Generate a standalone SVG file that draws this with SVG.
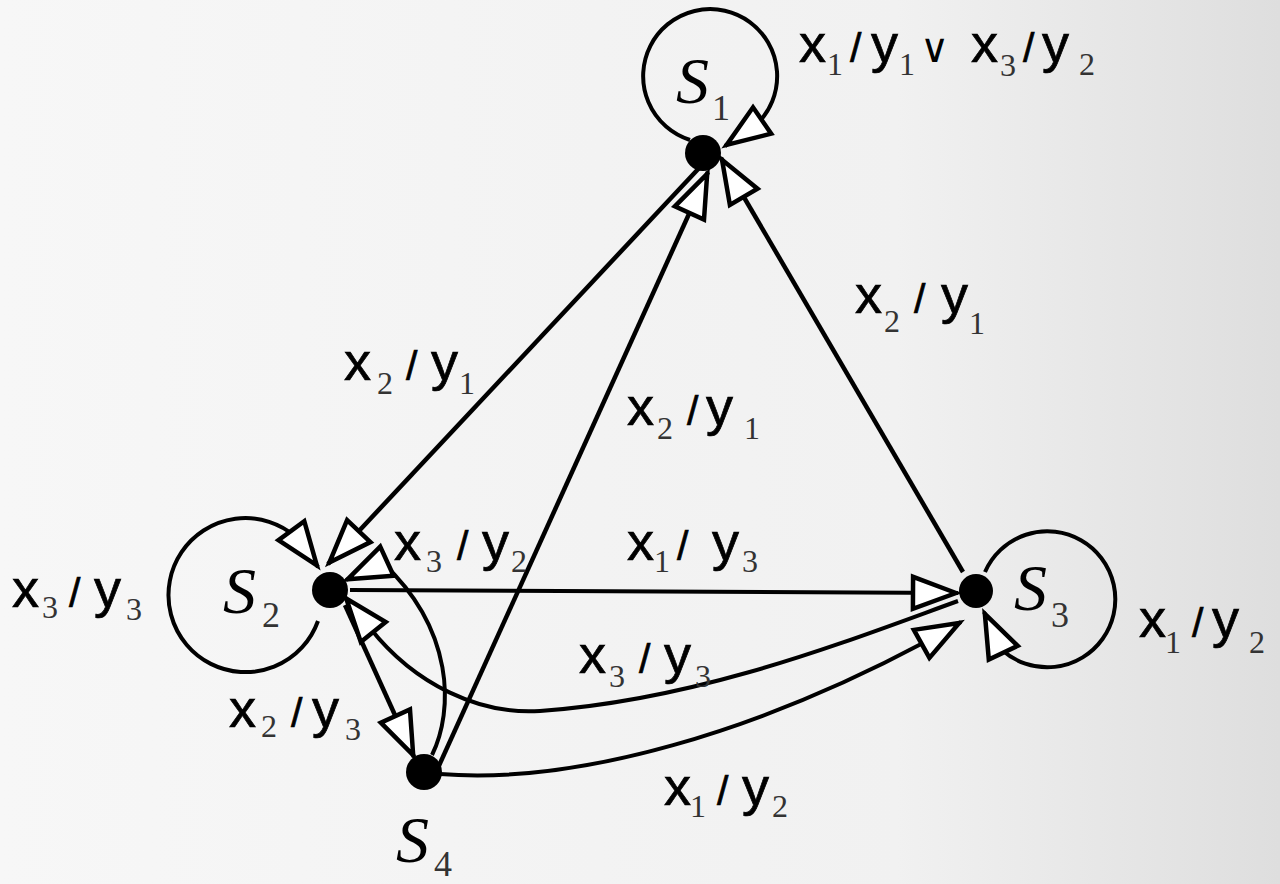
<svg xmlns="http://www.w3.org/2000/svg" width="1280" height="884" viewBox="0 0 1280 884">
<defs>
<linearGradient id="bg" x1="0" y1="0" x2="1" y2="0">
<stop offset="0" stop-color="#f7f7f7"/>
<stop offset="0.7" stop-color="#f1f1f1"/>
<stop offset="1" stop-color="#dedede"/>
</linearGradient>
<marker id="ah" markerUnits="userSpaceOnUse" markerWidth="60" markerHeight="60" viewBox="-50 -30 60 60" refX="0" refY="0" orient="auto" overflow="visible">
<path d="M-2,0 L-45,-16 L-45,16 Z" fill="#fff" stroke="#000" stroke-width="4.5"/>
</marker>
<style>
.c{fill:none;stroke:#000;stroke-width:4.5;marker-end:url(#ah)}
.c2{stroke-width:4}
.dot{fill:#000}
.m{font-family:"Liberation Sans",Arial,sans-serif;font-size:54px;fill:#000;stroke:#000;stroke-width:0.7}
.sl{font-size:41px}
.sb{font-family:"Liberation Serif","Times New Roman",serif;font-size:32px;fill:#333;stroke:none}
.or{font-family:"DejaVu Sans",sans-serif;font-size:40px;stroke:none}
.n{font-family:"Liberation Serif","Times New Roman",serif;font-style:italic;font-size:66px;fill:#000}
.ns{font-style:normal;font-size:36px;fill:#333}
</style>
</defs>
<rect width="1280" height="884" fill="url(#bg)"/>
<g id="connectors">
<path class="c c2" d="M690,140 A67,67 0 1 1 757,124 L725,146"/>
<path class="c c2" d="M318,621 A77,77 0 1 1 296,537 L318,567"/>
<path class="c c2" d="M985,572 A68,68 0 1 1 1002,650 L984,612"/>
<path class="c" d="M701,166 L328,564"/>
<path class="c" d="M437,770 L708,172"/>
<path class="c" d="M963,572 L721,158"/>
<path class="c c2" d="M350,590 L958,593"/>
<path class="c" d="M345,605 L414,757"/>
<path class="c c2" d="M958,601 C850,640 700,700 540,711 C480,715 415,685 370,628 L345,597"/>
<path class="c c2" d="M440,774 C580,785 760,730 925,642 L961,622"/>
<path class="c c2" d="M432,755 C454,710 454,630 383,563 L346,580"/>
</g>
<g id="labels">
<text class="m" y="62"><tspan x="799">x</tspan><tspan class="sb" x="827" y="75">1</tspan><tspan class="sl" x="850" y="62">/</tspan><tspan x="871">y</tspan><tspan class="sb" x="899" y="75">1</tspan><tspan class="or" x="920" y="62">∨</tspan><tspan x="971">x</tspan><tspan class="sb" x="1000" y="76">3</tspan><tspan class="sl" x="1023" y="62">/</tspan><tspan x="1042">y</tspan><tspan class="sb" x="1079" y="75">2</tspan></text>
<text class="m" y="380"><tspan x="344">x</tspan><tspan class="sb" x="377" y="394">2</tspan><tspan class="sl" x="406" y="380">/</tspan><tspan x="431">y</tspan><tspan class="sb" x="459" y="394">1</tspan></text>
<text class="m" y="425"><tspan x="627">x</tspan><tspan class="sb" x="657" y="439">2</tspan><tspan class="sl" x="687" y="425">/</tspan><tspan x="706">y</tspan><tspan class="sb" x="744" y="439">1</tspan></text>
<text class="m" y="313"><tspan x="855">x</tspan><tspan class="sb" x="884" y="332">2</tspan><tspan class="sl" x="914" y="313">/</tspan><tspan x="941">y</tspan><tspan class="sb" x="969" y="334">1</tspan></text>
<text class="m" y="607"><tspan x="12">x</tspan><tspan class="sb" x="42" y="618">3</tspan><tspan class="sl" x="69" y="607">/</tspan><tspan x="94">y</tspan><tspan class="sb" x="126" y="620">3</tspan></text>
<text class="m" y="560"><tspan x="394">x</tspan><tspan class="sb" x="426" y="572">3</tspan><tspan class="sl" x="457" y="560">/</tspan><tspan x="482">y</tspan><tspan class="sb" x="511" y="572">2</tspan></text>
<text class="m" y="560"><tspan x="627">x</tspan><tspan class="sb" x="654" y="572">1</tspan><tspan class="sl" x="677" y="560">/</tspan><tspan x="712">y</tspan><tspan class="sb" x="742" y="572">3</tspan></text>
<text class="m" y="673"><tspan x="579">x</tspan><tspan class="sb" x="609" y="687">3</tspan><tspan class="sl" x="639" y="673">/</tspan><tspan x="664">y</tspan><tspan class="sb" x="695" y="687">3</tspan></text>
<text class="m" y="727"><tspan x="229">x</tspan><tspan class="sb" x="261" y="737">2</tspan><tspan class="sl" x="291" y="727">/</tspan><tspan x="312">y</tspan><tspan class="sb" x="345" y="740">3</tspan></text>
<text class="m" y="805"><tspan x="664">x</tspan><tspan class="sb" x="690" y="817">1</tspan><tspan class="sl" x="717" y="805">/</tspan><tspan x="742">y</tspan><tspan class="sb" x="772" y="817">2</tspan></text>
<text class="m" y="637"><tspan x="1139">x</tspan><tspan class="sb" x="1165" y="653">1</tspan><tspan class="sl" x="1192" y="637">/</tspan><tspan x="1212">y</tspan><tspan class="sb" x="1249" y="653">2</tspan></text>
</g>
<g id="S1"><circle class="dot" cx="703" cy="153" r="18"/><text class="n" x="676" y="103">S<tspan class="ns" x="712" y="120">1</tspan></text></g>
<g id="S2"><circle class="dot" cx="330" cy="590" r="18"/><text class="n" x="223" y="613">S<tspan class="ns" x="262" y="627">2</tspan></text></g>
<g id="S3"><circle class="dot" cx="976" cy="591" r="17"/><text class="n" x="1014" y="610">S<tspan class="ns" x="1051" y="627">3</tspan></text></g>
<g id="S4"><circle class="dot" cx="424" cy="772" r="18"/><text class="n" x="396" y="862">S<tspan class="ns" x="434" y="876">4</tspan></text></g>
</svg>
